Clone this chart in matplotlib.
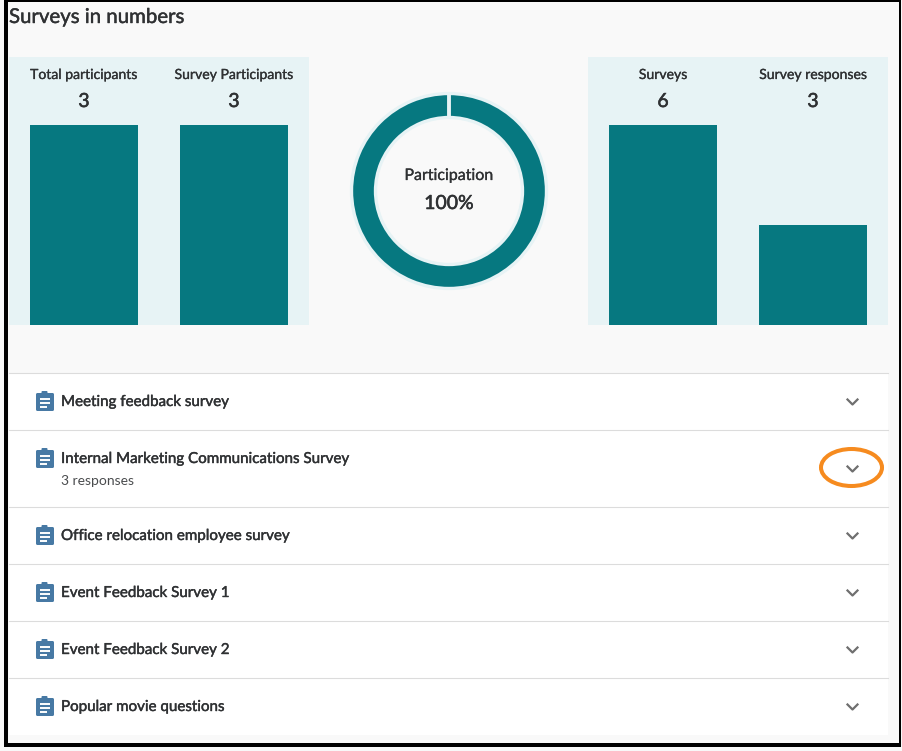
import matplotlib
matplotlib.use("Agg")
import matplotlib.pyplot as plt
import matplotlib.patheffects as pe
from matplotlib.patches import Rectangle, FancyBboxPatch, Ellipse

plt.rcParams['font.family'] = ['Lato', 'DejaVu Sans']

# --- data ---
left_labels = ["Total participants", "Survey Participants"]
left_values = [3, 3]
left_bar_max = 3
right_labels = ["Surveys", "Survey responses"]
right_values = [6, 3]
right_bar_max = 6
participation = [100]
survey_names = ["Meeting feedback survey", "Internal Marketing Communications Survey",
                "Office relocation employee survey", "Event Feedback Survey 1",
                "Event Feedback Survey 2", "Popular movie questions"]
survey_notes = ["", "3 responses", "", "", "", ""]

W, H = 902, 751
TEAL = "#067880"
PALE = "#e7f3f5"
INK = "#2f3133"

fig = plt.figure(figsize=(W / 100, H / 100), dpi=100, facecolor="#f8f8f8")

def px_axes(x0, y0, x1, y1, **kw):
    return fig.add_axes([x0 / W, 1 - y1 / H, (x1 - x0) / W, (y1 - y0) / H], **kw)

# Lato has no medium cut here, so thicken the regular one a little
def heavy(width=0.3):
    return [pe.withStroke(linewidth=width, foreground=INK)]

# page in pixel coordinates
page = px_axes(0, 0, W, H, zorder=0)
page.set_xlim(0, W)
page.set_ylim(H, 0)
page.axis("off")

page.add_patch(Rectangle((6, 1), 894, 744, fc="#f9f9f9", lw=0, zorder=0))
# black frame, heavier on the left and bottom
page.add_patch(Rectangle((4, 0), 4, 747, fc="black", lw=0, zorder=5))
page.add_patch(Rectangle((4, 0), 897, 2, fc="black", lw=0, zorder=5))
page.add_patch(Rectangle((899, 0), 2, 747, fc="black", lw=0, zorder=5))
page.add_patch(Rectangle((4, 743), 897, 4, fc="black", lw=0, zorder=5))

page.text(9, 23, "Surveys in numbers", fontsize=14.7, color=INK, path_effects=heavy(0.3))

# bar panels
def bar_panel(x0, labels, values, vmax):
    ax = px_axes(x0, 57, x0 + 300, 325, zorder=1, facecolor=PALE)
    ax.bar(range(len(values)), values, width=0.72, color=TEAL)
    ax.set_xlim(-0.5, 1.5)
    ax.set_ylim(0, vmax * 268 / 200)
    ax.set_xticks([])
    ax.set_yticks([])
    for s in ax.spines.values():
        s.set_visible(False)
    tr = ax.get_xaxis_transform()
    for i, (lab, val) in enumerate(zip(labels, values)):
        ax.text(i, (325 - 79) / 268, lab, transform=tr, ha="center", fontsize=10.1,
                color=INK, path_effects=heavy(0.2))
        ax.text(i, (325 - 107) / 268, str(val), transform=tr, ha="center", fontsize=14,
                color=INK, path_effects=heavy(0.4))

bar_panel(9, left_labels, left_values, left_bar_max)
bar_panel(588, right_labels, right_values, right_bar_max)

# donut
R_OUT = 97.5
R_IN = 73.5
dn = px_axes(449 - 110, 191 - 110, 449 + 110, 191 + 110, zorder=1)
dn.pie(participation + [0], colors=[TEAL, TEAL], startangle=90, counterclock=False, radius=R_OUT,
       wedgeprops=dict(width=R_OUT - R_IN, edgecolor=PALE, linewidth=2.4))
dn.plot([0, 0], [R_IN, R_OUT], color=PALE, lw=2.6, solid_capstyle="butt", zorder=5)
dn.set_xlim(-110, 110)
dn.set_ylim(-110, 110)
dn.set_aspect("equal")
dn.text(0, 191 - 180, "Participation", ha="center", fontsize=11.5, color=INK, path_effects=heavy(0.2))
dn.text(0, 191 - 209, f"{participation[0]}%", ha="center", fontsize=14, color=INK, path_effects=heavy(0.4))

# survey list
row_y = 373
page.add_patch(Rectangle((9, 373), 879, 362, fc="white", lw=0, zorder=1))
for name, note in zip(survey_names, survey_notes):
    h = 77 if note else 57
    mid = row_y + 28.5
    page.plot([9, 888], [row_y, row_y], color="#dcdcdc", lw=0.8, zorder=2)
    # clipboard icon
    page.add_patch(FancyBboxPatch((37, mid - 7.5), 16, 16, boxstyle="round,pad=1,rounding_size=1.5",
                                  fc="#4779a4", lw=0, zorder=3))
    page.add_patch(FancyBboxPatch((42, mid - 10), 5, 3, boxstyle="round,pad=0.5,rounding_size=1",
                                  fc="#4779a4", lw=0, zorder=3))
    for dy, x1 in zip((-2.5, 1.5, 5.5), (50, 50, 47)):
        page.plot([40, x1], [mid + dy, mid + dy], color="white", lw=1.4, solid_capstyle="butt", zorder=4)
    page.text(61, mid + 4.5, name, fontsize=10.9, color=INK, zorder=4, path_effects=heavy(0.3))
    if note:
        page.text(61, mid + 26.5, note, fontsize=10, color="#4a4c4e", zorder=4)
    # chevron
    cy = row_y + h / 2 + 0.5
    page.plot([847.5, 852.5, 857.5], [cy - 2.5, cy + 2.5, cy - 2.5], color="#6f6f6f", lw=1.6, zorder=4)
    if note:
        page.add_patch(Ellipse((851.5, cy - 1.5), 61, 37, fc="none", ec="#f68b1f", lw=2.9, zorder=4))
    row_y += h

fig.savefig("out.png", dpi=100, facecolor=fig.get_facecolor())
